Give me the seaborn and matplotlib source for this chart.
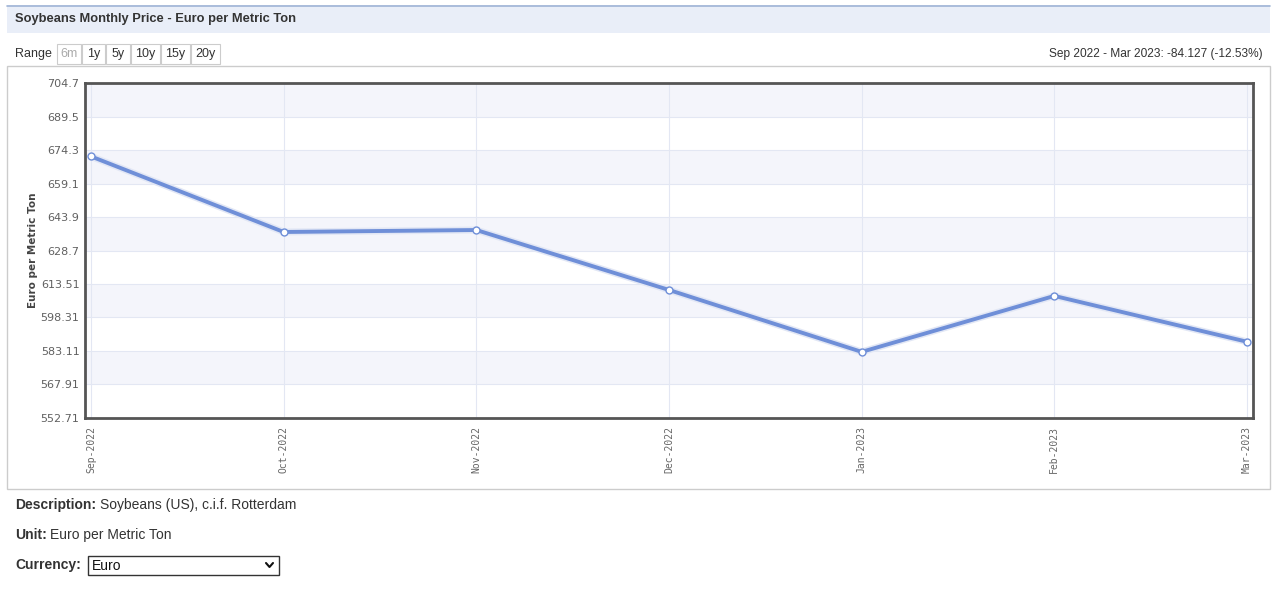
import matplotlib
matplotlib.use("Agg")
import matplotlib.pyplot as plt
from matplotlib.patches import Rectangle
import numpy as np
import pandas as pd
import seaborn as sns

months = ["Sep-2022", "Oct-2022", "Nov-2022", "Dec-2022", "Jan-2023", "Feb-2023", "Mar-2023"]
prices = [671.4, 637.1, 638.0, 610.8, 582.7, 608.1, 587.3]
yticks = [552.71, 567.91, 583.11, 598.31, 613.51, 628.7, 643.9, 659.1, 674.3, 689.5, 704.7]
ytick_labels = ["552.71", "567.91", "583.11", "598.31", "613.51", "628.7", "643.9", "659.1", "674.3", "689.5", "704.7"]
range_buttons = ["6m", "1y", "5y", "10y", "15y", "20y"]

sns.set_theme(style="white")
plt.rcParams['font.family'] = ['Liberation Sans', 'DejaVu Sans']

W, H = 1272, 594
fig = plt.figure(figsize=(W / 100, H / 100), dpi=100)
fig.patch.set_facecolor("white")

def fx(x):
    return x / W

def fy(y):
    return 1 - y / H

def prect(x0, y0, x1, y1, **kw):
    fig.patches.append(Rectangle((fx(x0), fy(y1)), fx(x1) - fx(x0), fy(y0) - fy(y1),
                                 transform=fig.transFigure, figure=fig, **kw))

# header bar
prect(7, 5, 1270, 33, facecolor="#e9eef8", edgecolor="none", zorder=0)
fig.add_artist(plt.Line2D([fx(7), fx(1270)], [fy(5.5), fy(5.5)], transform=fig.transFigure,
                          color="#9fb4d6", lw=1.2))
fig.text(fx(15), fy(19), "Soybeans Monthly Price - Euro per Metric Ton", fontsize=9.3,
         fontweight="bold", color="#333333", va="center", ha="left")

# range buttons
fig.text(fx(15), fy(54), "Range", fontsize=9, color="#333333", va="center", ha="left")
btn_x = [57, 82, 106, 131, 161, 191, 221]
for i, b in enumerate(range_buttons):
    prect(btn_x[i], 44, btn_x[i + 1] - 1, 64, facecolor="white", edgecolor="#cccccc", lw=0.8)
    fig.text(fx((btn_x[i] + btn_x[i + 1] - 1) / 2), fy(54), b, fontsize=9,
             color="#aaaaaa" if i == 0 else "#333333", va="center", ha="center")
fig.text(fx(1263), fy(54), "Sep 2022 - Mar 2023: -84.127 (-12.53%)", fontsize=8.6,
         color="#333333", va="center", ha="right")

# container
prect(7, 66, 1270, 489, facecolor="none", edgecolor="#cccccc", lw=1, zorder=0)

# axes
ax = fig.add_axes([fx(85), fy(418), fx(1253) - fx(85), fy(83) - fy(418)])
ax.set_zorder(5)
ax.set_facecolor("white")
for i in range(len(yticks) - 1):
    if (len(yticks) - 2 - i) % 2 == 0:
        ax.axhspan(yticks[i], yticks[i + 1], color="#f4f5fb", zorder=0, lw=0)
for t in yticks:
    ax.axhline(t, color="#e3e7f3", lw=0.8, zorder=0.5)
for i in range(len(months)):
    ax.axvline(i, color="#e3e7f3", lw=0.8, zorder=0.5)

df = pd.DataFrame({"pos": np.arange(len(months)), "price": prices})
sns.lineplot(data=df, x="pos", y="price", ax=ax, color="#e2e7f5", lw=5.0, zorder=2)
sns.lineplot(data=df, x="pos", y="price", ax=ax, color="#6f8fd8", lw=2.8, zorder=3,
             marker="o", markersize=5, markerfacecolor="white", markeredgecolor="#6f8fd8",
             markeredgewidth=1.0)

ax.set_xlim(-0.031, 6.031)
ax.set_ylim(yticks[0], yticks[-1])
ax.set_yticks(yticks)
ax.set_yticklabels(ytick_labels, fontsize=8, color="#606060", family=["DejaVu Sans"])
ax.set_xticks(range(len(months)))
ax.set_xticklabels(months, rotation=90, fontsize=7, color="#666666", family=["DejaVu Sans Mono"])
ax.tick_params(axis="y", length=0, pad=4)
ax.tick_params(axis="x", length=0, pad=6)
ax.set_xlabel("")
ax.set_ylabel("Euro per Metric Ton", fontsize=7.5, fontweight="bold", color="#444444",
              family=["DejaVu Sans"], labelpad=2)
for s in ax.spines.values():
    s.set_visible(True)
    s.set_color("#555555")
    s.set_linewidth(2)

# bottom description
fs = 10
fig.text(fx(15), fy(505), "Description:", fontsize=fs, fontweight="bold", color="#333333", va="center")
fig.text(fx(100), fy(505), "Soybeans (US), c.i.f. Rotterdam", fontsize=fs, color="#333333", va="center")
fig.text(fx(15), fy(535), "Unit:", fontsize=fs, fontweight="bold", color="#333333", va="center")
fig.text(fx(50), fy(535), "Euro per Metric Ton", fontsize=fs, color="#333333", va="center")
fig.text(fx(15), fy(565), "Currency:", fontsize=fs, fontweight="bold", color="#333333", va="center")
prect(88, 556, 279, 575, facecolor="white", edgecolor="#333333", lw=1)
fig.text(fx(92), fy(565.5), "Euro", fontsize=fs, color="#111111", va="center")
fig.add_artist(plt.Line2D([fx(266), fx(269.5), fx(273)], [fy(563), fy(567), fy(563)],
                          transform=fig.transFigure, color="#111111", lw=1.5))

fig.savefig("out.png", dpi=100)
